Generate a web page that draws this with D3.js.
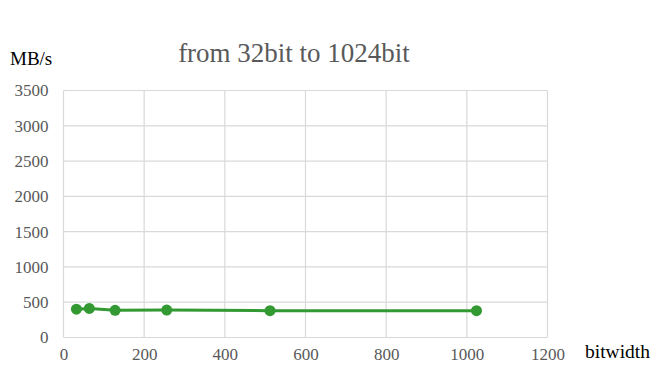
<!DOCTYPE html>
<html><head><meta charset="utf-8">
<script src="https://cdn.jsdelivr.net/npm/d3@7"></script>
<style>body{margin:0;background:#fff}svg{display:block}
.serif{font-family:"Liberation Serif","Times New Roman","DejaVu Serif",serif}</style>
</head><body>
<svg id="c" width="654" height="367"></svg>
<script>
const bitwidths = [32, 64, 128, 256, 512, 1024];
const speeds = [402, 412, 385, 388, 380, 380];
const xTicks = [0, 200, 400, 600, 800, 1000, 1200];
const yTicks = [0, 500, 1000, 1500, 2000, 2500, 3000, 3500];
const titleText = "from 32bit to 1024bit";
const yLabel = "MB/s";
const xLabel = "bitwidth";

const svg = d3.select("#c");
const txt = "#595959";
const x = d3.scaleLinear().domain([0, 1200]).range([63.5, 547.5]);
const y = d3.scaleLinear().domain([0, 3500]).range([337.5, 90.5]);

const g = svg.append("g");
g.selectAll(".vg").data(xTicks).join("line")
  .attr("x1", d => x(d)).attr("x2", d => x(d)).attr("y1", y(0)).attr("y2", y(3500))
  .attr("stroke", "#d9d9d9").attr("stroke-width", 1.2);
g.selectAll(".hg").data(yTicks).join("line")
  .attr("x1", x(0)).attr("x2", x(1200)).attr("y1", d => y(d)).attr("y2", d => y(d))
  .attr("stroke", "#d9d9d9").attr("stroke-width", 1.2);

const xa = svg.append("g").attr("transform", `translate(0,${y(0)})`)
  .call(d3.axisBottom(x).tickValues(xTicks).tickFormat(d3.format("d")).tickSize(0).tickPadding(10.5));
xa.attr("font-family", null).attr("class", "serif");
xa.select(".domain").remove();
xa.selectAll("text").attr("font-size", 17).attr("fill", txt);

const ya = svg.append("g").attr("transform", `translate(${x(0)},0)`)
  .call(d3.axisLeft(y).tickValues(yTicks).tickFormat(d3.format("d")).tickSize(0).tickPadding(15));
ya.attr("font-family", null).attr("class", "serif");
ya.select(".domain").remove();
ya.selectAll("text").attr("font-size", 17).attr("fill", txt);

const color = "#339933";
const data = bitwidths.map((b, i) => [b, speeds[i]]);
svg.append("path").datum(data)
  .attr("d", d3.line().x(d => x(d[0])).y(d => y(d[1])))
  .attr("fill", "none").attr("stroke", color).attr("stroke-width", 3);
svg.selectAll(".pt").data(data).join("circle")
  .attr("cx", d => x(d[0])).attr("cy", d => y(d[1])).attr("r", 5.5).attr("fill", color);

svg.append("text").attr("class", "serif").attr("x", 294).attr("y", 62).attr("text-anchor", "middle")
  .attr("font-size", 27).attr("fill", txt).text(titleText);
svg.append("text").attr("class", "serif").attr("x", 10).attr("y", 65)
  .attr("font-size", 19).attr("fill", "#000").text(yLabel);
svg.append("text").attr("class", "serif").attr("x", 585).attr("y", 358)
  .attr("font-size", 19.5).attr("fill", "#000").text(xLabel);
</script>
</body></html>
